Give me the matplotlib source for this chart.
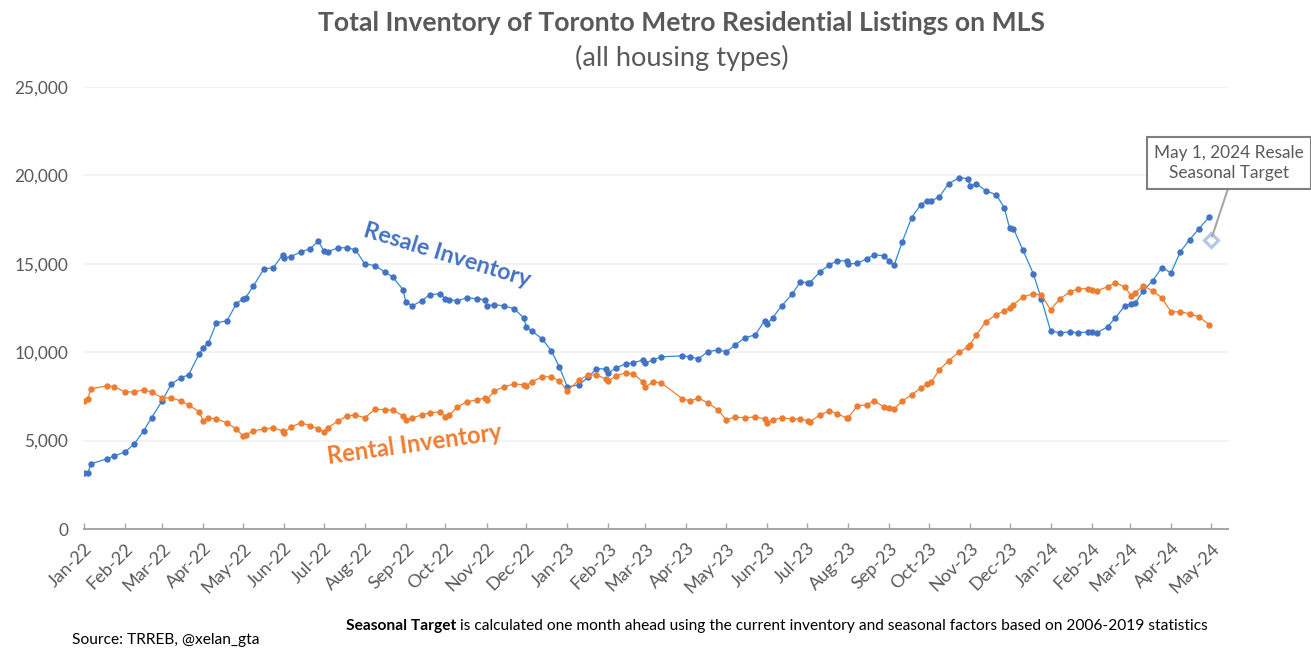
import numpy as np
import matplotlib
matplotlib.use("Agg")
import matplotlib.pyplot as plt
from matplotlib.ticker import FuncFormatter

plt.rcParams['font.family'] = ['Lato', 'DejaVu Sans']

start_date = np.datetime64('2022-01-01')

days = [0,3,5,17,23,31,38,45,51,59,66,73,79,87,90,94,100,108,115,120,122,128,136,143,150,151,156,164,171,177,181,184,192,199,205,212,220,227,233,241,243,248,255,261,269,273,276,282,289,
        297,303,304,310,317,325,332,334,338,346,353,359,365,374,381,387,394,396,402,409,415,422,424,430,436,452,458,464,471,479,485,492,499,507,514,516,520,527,535,541,547,548,556,563,569,576,577,584,
        591,597,604,608,612,618,625,632,637,640,646,653,661,668,669,674,681,689,695,699,702,709,717,723,730,737,745,751,758,761,765,773,779,786,791,794,800,807,814,821,828,835,842,850]

resale = [3170,3170,3680,3963,4133,4359,4812,5548,6284,7246,8208,8548,8718,9907,10246,10529,11662,11775,12737,13020,13077,13756,14719,14775,15511,15341,15398,15681,15851,16304,15738,15681,15907,15907,15794,15002,14888,14549,14266,13530,12850,12624,12907,13247,13303,13020,12964,12907,13077,
          13020,12964,12624,12681,12624,12454,11945,11435,11209,10756,10077,9171,8039,8152,8605,9058,9058,8831,9114,9341,9397,9567,9397,9567,9737,9794,9737,9624,10020,10133,10020,10416,10813,10982,11775,11605,11945,12624,13303,13983,13926,13926,14549,14945,15171,15171,15002,15021,
          15285,15511,15455,15171,14945,16247,17606,18342,18568,18568,18795,19530,19870,19814,19417,19530,19134,18908,18172,17040,16983,15794,14436,13020,11209,11096,11152,11096,11152,11152,11096,11435,11945,12624,12737,12794,13473,14039,14775,14492,15681,16360,16983,17662]

rental = [7246,7359,7925,8095,8039,7756,7756,7869,7756,7416,7416,7246,7020,6623,6114,6284,6227,6001,5661,5265,5321,5548,5661,5718,5548,5435,5774,6001,5831,5661,5491,5718,6114,6397,6454,6284,6793,6737,6737,6397,6170,6284,6454,6567,6623,6340,6454,6906,7189,
          7303,7416,7303,7812,8039,8208,8152,8095,8322,8605,8605,8378,7812,8435,8718,8718,8492,8378,8661,8831,8775,8322,8039,8322,8265,7359,7246,7416,7133,6737,6170,6340,6284,6340,6227,6001,6170,6284,6227,6227,6114,6057,6454,6680,6510,6284,6284,6963,
          7020,7246,6906,6850,6793,7246,7586,7982,8208,8322,9001,9510,10020,10303,10416,10982,11718,12115,12341,12511,12681,13134,13303,13247,12398,13020,13417,13586,13586,13530,13473,13700,13926,13700,13190,13360,13756,13473,13077,12284,12284,12171,12001,11548]

target_day = 851
target_value = 16320

month_labels = ['Jan-22','Feb-22','Mar-22','Apr-22','May-22','Jun-22','Jul-22','Aug-22','Sep-22','Oct-22','Nov-22','Dec-22',
                'Jan-23','Feb-23','Mar-23','Apr-23','May-23','Jun-23','Jul-23','Aug-23','Sep-23','Oct-23','Nov-23','Dec-23',
                'Jan-24','Feb-24','Mar-24','Apr-24','May-24']
month_days = [0,31,59,90,120,151,181,212,243,273,304,334,365,396,424,455,485,516,546,577,608,638,669,699,730,761,790,821,851]
y_ticks = [0,5000,10000,15000,20000,25000]

W, H = 1311, 658
fig = plt.figure(figsize=(W/100, H/100), dpi=100, facecolor='white')
L, R, T, B = 84, 1228, 87, 529
ax = fig.add_axes([L/W, 1-B/H, (R-L)/W, (B-T)/H])

dates = start_date + np.array(days, dtype='timedelta64[D]')
ticks = start_date + np.array(month_days, dtype='timedelta64[D]')
tdate = start_date + np.timedelta64(target_day, 'D')

ax.set_xlim(start_date, start_date + np.timedelta64(864, 'D'))
ax.set_ylim(0, 25000)

ax.plot(dates, resale, color='#2E8BD0', lw=0.9, marker='o', ms=4.6, mfc='#4472C4', mec='#4472C4', mew=0, zorder=3)
ax.plot(dates, rental, color='#ED7D31', lw=0.9, marker='o', ms=4.6, mfc='#ED7D31', mec='#ED7D31', mew=0, zorder=4)
ax.plot([tdate], [target_value], marker='D', ms=6.8, mfc='white', mec='#B4C7E7', mew=2.3, ls='none', zorder=5)

for s in ['top','left','right']:
    ax.spines[s].set_visible(False)
ax.spines['bottom'].set_color('#A6A6A6')
ax.spines['bottom'].set_linewidth(1.5)
ax.set_axisbelow(True)
ax.grid(axis='y', color='#F2F2F2', lw=1.3)
ax.set_yticks(y_ticks)
ax.yaxis.set_major_formatter(FuncFormatter(lambda v, p: f'{int(v):,}'))
ax.tick_params(axis='y', length=0, labelsize=12.4, labelcolor='#595959', pad=11.5)
for lab in ax.get_yticklabels():
    lab.set_y(lab.get_position()[1])
ax.set_xticks(ticks)
ax.set_xticklabels(month_labels, rotation=45, ha='right', rotation_mode='anchor')
ax.tick_params(axis='x', direction='in', length=4.5, width=1, color='#A6A6A6', labelsize=13, labelcolor='#595959', pad=8)

def fx(p): return p / W
def fy(p): return 1 - p / H

fig.text(fx(682), fy(23), 'Total Inventory of Toronto Metro Residential Listings on MLS', ha='center', va='center',
         fontsize=19.1, fontweight='bold', color='#595959')
fig.text(fx(682), fy(58), '(all housing types)', ha='center', va='center', fontsize=19.6, color='#595959')

fig.text(fx(447), fy(255), 'Resale Inventory', rotation=-17, ha='center', va='center', fontsize=16.7, fontweight='bold',
         color='#4472C4', rotation_mode='anchor')
fig.text(fx(415), fy(444), 'Rental Inventory', rotation=8, ha='center', va='center', fontsize=17, fontweight='bold',
         color='#ED7D31', rotation_mode='anchor')

ax.annotate('May 1, 2024 Resale\nSeasonal Target', xy=(tdate, target_value), xycoords='data',
            xytext=(fx(1229), fy(163)), textcoords='figure fraction', ha='center', va='center', fontsize=12.4,
            color='#595959', linespacing=1.38, zorder=6,
            bbox=dict(boxstyle='square,pad=0.42', fc='white', ec='#7F7F7F', lw=1.5),
            arrowprops=dict(arrowstyle='-', color='#A6A6A6', lw=1.5, shrinkA=0, shrinkB=3, relpos=(0.55, 0.5)))

fig.text(fx(72), fy(640), 'Source: TRREB, @xelan_gta', ha='left', va='center', fontsize=11.15, color='black')
t1 = fig.text(fx(346), fy(626), 'Seasonal Target', ha='left', va='center', fontsize=11.15, fontweight='bold', color='black')
fig.canvas.draw()
bb = t1.get_window_extent()
fig.text(bb.x1/W + 4/W, fy(626), 'is calculated one month ahead using the current inventory and seasonal factors based on 2006-2019 statistics',
         ha='left', va='center', fontsize=11.15, color='black')

fig.savefig('out.png', dpi=100)
